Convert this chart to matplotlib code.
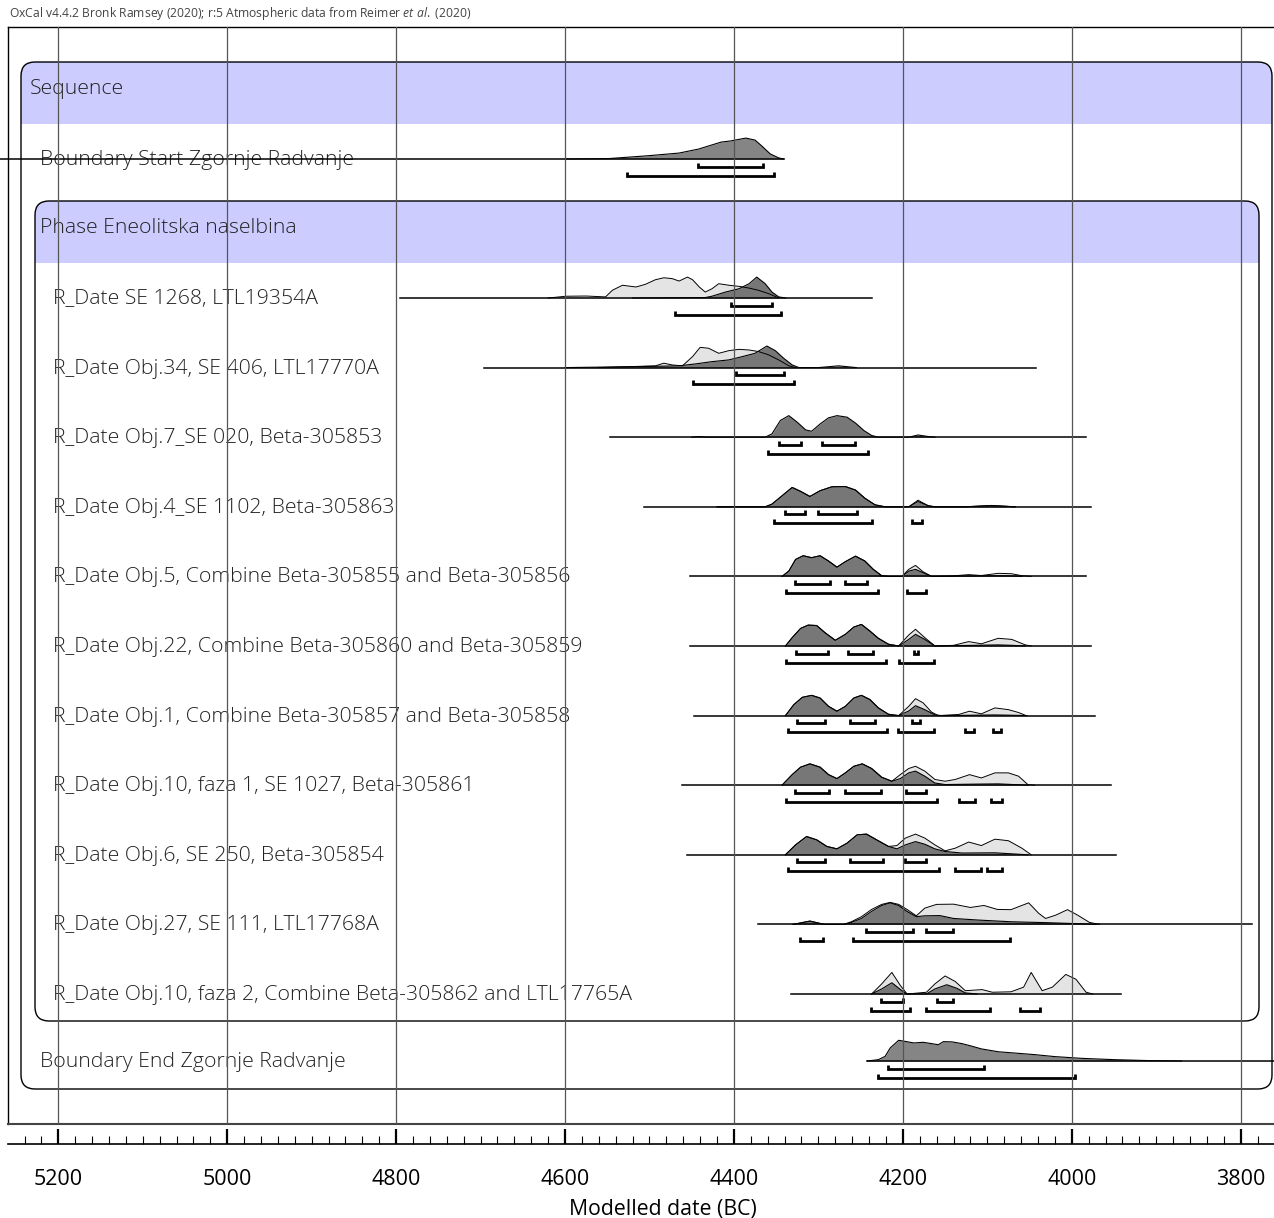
import matplotlib
matplotlib.use("Agg")
import matplotlib.pyplot as plt
from matplotlib.patches import FancyBboxPatch, Rectangle
from matplotlib.ticker import MultipleLocator

plt.rcParams["font.family"] = ["Open Sans", "DejaVu Sans"]
plt.rcParams["mathtext.fontset"] = "custom"
plt.rcParams["mathtext.rm"] = "Open Sans"
plt.rcParams["mathtext.it"] = "Open Sans:italic"

# ── data (years BC, heights in % of row height) ──────────────────────────────
BSTART_SPAN = (5269, 4341)
BSTART_YR = [4600, 4548, 4501, 4465, 4442, 4415, 4404, 4386, 4375, 4367, 4357, 4347, 4341]
BSTART_H = [0, 2, 15, 27, 45, 77, 82, 95, 86, 59, 23, 5, 0]
BSTART_68 = [(4442, 4366)]
BSTART_95 = [(4527, 4352)]

R1_SPAN = (4796, 4237)
R1_LYR = [4620, 4599, 4575, 4552, 4544, 4532, 4516, 4505, 4493, 4483, 4473, 4465,
          4455, 4449, 4441, 4434, 4426, 4418, 4406, 4394, 4382, 4371, 4359, 4347]
R1_LH = [0, 8, 9, 5, 35, 58, 50, 62, 83, 92, 88, 77, 95, 83, 50, 27, 42, 65, 58, 53, 45, 35, 20, 0]
R1_DYR = [4520, 4434, 4426, 4410, 4394, 4382, 4373, 4363, 4355, 4347, 4339]
R1_DH = [0, 2, 8, 27, 42, 65, 95, 65, 27, 5, 0]
R1_68 = [(4404, 4355)]
R1_95 = [(4470, 4344)]

R2_SPAN = (4696, 4042)
R2_LYR = [4560, 4493, 4483, 4473, 4461, 4449, 4440, 4430, 4418, 4406, 4394, 4382,
          4371, 4359, 4347, 4335, 4327]
R2_LH = [0, 8, 20, 12, 8, 50, 92, 88, 65, 77, 83, 80, 73, 58, 35, 8, 0]
R2_DYR = [4600, 4505, 4465, 4445, 4426, 4406, 4390, 4375, 4361, 4351, 4341, 4331,
          4323, 4300, 4276, 4255]
R2_DH = [0, 5, 8, 17, 27, 35, 50, 65, 98, 77, 42, 12, 0, 0, 8, 0]
R2_68 = [(4397, 4341)]
R2_95 = [(4449, 4329)]

R3_SPAN = (4547, 3983)
R3_DYR = [4450, 4441, 4432, 4363, 4355, 4345, 4335, 4325, 4315, 4308, 4298, 4288,
          4278, 4266, 4256, 4246, 4237, 4229, 4193, 4182, 4170, 4162]
R3_DH = [0, 3, 0, 0, 15, 76, 98, 68, 33, 27, 60, 88, 98, 91, 64, 30, 8, 0, 0, 10, 3, 0]
R3_68 = [(4347, 4320), (4296, 4257)]
R3_95 = [(4360, 4241)]

R4_SPAN = (4507, 3977)
R4_DYR = [4420, 4363, 4355, 4343, 4331, 4321, 4310, 4298, 4284, 4268, 4256, 4245,
          4233, 4221, 4193, 4182, 4170, 4162, 4126, 4095, 4067]
R4_DH = [0, 0, 12, 50, 88, 70, 47, 73, 91, 92, 76, 39, 9, 0, 0, 24, 5, 0, 0, 6, 0]
R4_LH = [0, 0, 12, 50, 88, 70, 47, 73, 91, 92, 76, 39, 9, 0, 0, 30, 5, 0, 0, 6, 0]
R4_68 = [(4339, 4316), (4300, 4254)]
R4_95 = [(4352, 4236), (4189, 4177)]

R5_SPAN = (4452, 3983)
R5_DYR = [4343, 4335, 4327, 4318, 4308, 4298, 4288, 4278, 4268, 4256, 4245, 4235,
          4225, 4217, 4201, 4193, 4185, 4176, 4166, 4087, 4071, 4059]
R5_DH = [0, 24, 77, 94, 85, 94, 70, 42, 67, 92, 70, 32, 3, 0, 0, 24, 32, 17, 0, 3, 2, 0]
R5_LYR = [4343, 4335, 4327, 4318, 4308, 4298, 4288, 4278, 4268, 4256, 4245, 4235,
          4225, 4217, 4201, 4193, 4185, 4176, 4166, 4142, 4122, 4107, 4087, 4071, 4059, 4048]
R5_LH = [0, 24, 77, 94, 85, 94, 70, 42, 67, 92, 70, 32, 3, 0, 0, 32, 50, 21, 0, 2, 8, 4, 14, 12, 3, 0]
R5_68 = [(4328, 4286), (4269, 4243)]
R5_95 = [(4338, 4230), (4195, 4172)]

R6_SPAN = (4452, 3977)
R6_DYR = [4339, 4331, 4321, 4312, 4302, 4292, 4280, 4268, 4258, 4249, 4239, 4229,
          4217, 4205, 4193, 4185, 4174, 4162, 4087, 4071, 4055]
R6_DH = [0, 38, 80, 95, 93, 60, 26, 53, 86, 98, 68, 35, 8, 0, 30, 53, 30, 0, 5, 3, 0]
R6_LYR = [4339, 4331, 4321, 4312, 4302, 4292, 4280, 4268, 4258, 4249, 4239, 4229,
          4217, 4205, 4193, 4185, 4174, 4162, 4140, 4122, 4107, 4087, 4071, 4055, 4048]
R6_LH = [0, 38, 80, 95, 93, 60, 26, 53, 86, 98, 68, 35, 8, 0, 50, 76, 38, 0, 3, 20, 10, 35, 30, 5, 0]
R6_68 = [(4326, 4289), (4265, 4235), (4187, 4182)]
R6_95 = [(4338, 4220), (4204, 4163)]

R7_SPAN = (4447, 3973)
R7_DYR = [4339, 4329, 4319, 4308, 4298, 4288, 4278, 4268, 4258, 4249, 4239, 4229,
          4217, 4205, 4193, 4185, 4174, 4162, 4154, 4091, 4075, 4053]
R7_DH = [0, 50, 83, 92, 80, 42, 20, 42, 80, 92, 73, 35, 6, 0, 21, 45, 27, 3, 0, 3, 2, 0]
R7_LYR = [4339, 4329, 4319, 4308, 4298, 4288, 4278, 4268, 4258, 4249, 4239, 4229,
          4217, 4205, 4193, 4185, 4176, 4166, 4158, 4134, 4121, 4107, 4091, 4075, 4063, 4054]
R7_LH = [0, 50, 83, 92, 80, 42, 20, 42, 80, 92, 73, 35, 6, 0, 42, 77, 58, 16, 0, 5, 20, 8, 35, 27, 14, 0]
R7_68 = [(4325, 4292), (4263, 4233), (4189, 4180)]
R7_95 = [(4336, 4219), (4206, 4163), (4126, 4116), (4093, 4084)]

R8_SPAN = (4461, 3953)
R8_DYR = [4343, 4331, 4321, 4310, 4298, 4288, 4278, 4268, 4258, 4248, 4237, 4225,
          4213, 4203, 4193, 4185, 4174, 4162, 4150, 4111, 4087, 4052]
R8_DH = [0, 48, 82, 97, 82, 48, 30, 56, 86, 97, 76, 36, 18, 30, 56, 64, 41, 10, 3, 5, 6, 0]
R8_LYR = [4343, 4331, 4321, 4310, 4298, 4288, 4278, 4268, 4258, 4248, 4237, 4225,
          4213, 4203, 4193, 4185, 4174, 4162, 4150, 4138, 4121, 4107, 4091, 4075, 4063, 4052, 4044]
R8_LH = [0, 48, 82, 97, 82, 48, 30, 56, 86, 97, 76, 36, 18, 48, 76, 86, 64, 26, 18, 26,
         48, 33, 56, 56, 41, 3, 0]
R8_68 = [(4328, 4287), (4268, 4226), (4196, 4173)]
R8_95 = [(4338, 4159), (4134, 4114), (4096, 4082)]

R9_SPAN = (4456, 3947)
R9_DYR = [4339, 4327, 4314, 4302, 4290, 4278, 4266, 4254, 4243, 4231, 4217, 4207,
          4197, 4185, 4174, 4162, 4150, 4130, 4091, 4052]
R9_DH = [0, 45, 83, 68, 38, 27, 53, 91, 94, 68, 38, 27, 45, 60, 48, 27, 15, 8, 9, 0]
R9_LYR = [4339, 4327, 4314, 4302, 4290, 4278, 4266, 4254, 4243, 4231, 4217, 4207,
          4197, 4185, 4174, 4162, 4150, 4138, 4122, 4107, 4091, 4075, 4059, 4048]
R9_LH = [0, 45, 83, 68, 38, 27, 53, 91, 94, 68, 38, 42, 76, 94, 76, 45, 18, 30, 58,
         42, 71, 64, 30, 0]
R9_68 = [(4325, 4292), (4263, 4224), (4198, 4172)]
R9_95 = [(4336, 4157), (4138, 4107), (4100, 4082)]

R10_SPAN = (4372, 3787)
R10_DYR = [4330, 4310, 4293, 4270, 4261, 4249, 4237, 4225, 4215, 4205, 4195, 4184,
           4174, 4156, 4140, 4112, 4072, 4031, 3991, 3971]
R10_DH = [0, 15, 0, 0, 9, 27, 59, 86, 98, 86, 59, 35, 39, 40, 27, 20, 12, 8, 3, 0]
R10_LYR = [4330, 4310, 4293, 4270, 4261, 4249, 4237, 4225, 4215, 4205, 4195, 4184,
           4174, 4160, 4140, 4120, 4104, 4088, 4072, 4051, 4039, 4031, 4019, 4005, 3993, 3979, 3967]
R10_LH = [0, 15, 0, 0, 12, 35, 68, 91, 100, 91, 68, 39, 74, 91, 92, 77, 86, 68, 67,
          98, 50, 27, 42, 67, 42, 9, 0]
R10_68 = [(4244, 4188), (4172, 4141)]
R10_95 = [(4322, 4294), (4259, 4073)]

R11_SPAN = (4332, 3942)
R11_DYR = [4237, 4225, 4213, 4201, 4195, 4172, 4162, 4148, 4136, 4126, 4112]
R11_DH = [0, 23, 51, 15, 0, 0, 23, 42, 26, 5, 0]
R11_LYR = [4237, 4225, 4213, 4203, 4195, 4172, 4162, 4150, 4138, 4126, 4106, 4094,
           4072, 4057, 4048, 4035, 4023, 4007, 3995, 3983, 3975]
R11_LH = [0, 46, 98, 39, 0, 8, 46, 82, 57, 15, 20, 8, 10, 31, 98, 15, 31, 89, 67, 8, 0]
R11_68 = [(4226, 4200), (4160, 4141)]
R11_95 = [(4238, 4191), (4172, 4097), (4061, 4038)]

BEND_SPAN = (4242, 3760)
BEND_YR = [4242, 4229, 4221, 4215, 4205, 4197, 4187, 4176, 4166, 4158, 4152, 4142,
           4130, 4118, 4107, 4087, 4067, 4044, 4020, 3988, 3949, 3910, 3870]
BEND_H = [0, 6, 21, 59, 94, 89, 82, 85, 79, 74, 88, 87, 79, 67, 55, 42, 36, 29, 20, 12, 6, 2, 0]
BEND_68 = [(4218, 4104)]
BEND_95 = [(4229, 3996)]

LABELS = [
    "Boundary Start Zgornje Radvanje",
    "R_Date SE 1268, LTL19354A",
    "R_Date Obj.34, SE 406, LTL17770A",
    "R_Date Obj.7_SE 020, Beta-305853",
    "R_Date Obj.4_SE 1102, Beta-305863",
    "R_Date Obj.5, Combine Beta-305855 and Beta-305856",
    "R_Date Obj.22, Combine Beta-305860 and Beta-305859",
    "R_Date Obj.1, Combine Beta-305857 and Beta-305858",
    "R_Date Obj.10, faza 1, SE 1027, Beta-305861",
    "R_Date Obj.6, SE 250, Beta-305854",
    "R_Date Obj.27, SE 111, LTL17768A",
    "R_Date Obj.10, faza 2, Combine Beta-305862 and LTL17765A",
    "Boundary End Zgornje Radvanje",
]
GRID_YEARS = [5200, 5000, 4800, 4600, 4400, 4200, 4000, 3800]

# ── layout (pixels) ───────────────────────────────────────────────────────────
W, H = 1274, 1218
ROW_Y = [159] + [298 + i * 69.6 for i in range(11)] + [1061]
LABEL_X = [40] + [53] * 11 + [40]
HSCALE = 0.22          # px per % of peak
XL, XR = 5259.6, 3760.5

rows = [
    (BSTART_SPAN, None, (BSTART_YR, BSTART_H), BSTART_68, BSTART_95, True),
    (R1_SPAN, (R1_LYR, R1_LH), (R1_DYR, R1_DH), R1_68, R1_95, False),
    (R2_SPAN, (R2_LYR, R2_LH), (R2_DYR, R2_DH), R2_68, R2_95, False),
    (R3_SPAN, None, (R3_DYR, R3_DH), R3_68, R3_95, False),
    (R4_SPAN, (R4_DYR, R4_LH), (R4_DYR, R4_DH), R4_68, R4_95, False),
    (R5_SPAN, (R5_LYR, R5_LH), (R5_DYR, R5_DH), R5_68, R5_95, False),
    (R6_SPAN, (R6_LYR, R6_LH), (R6_DYR, R6_DH), R6_68, R6_95, False),
    (R7_SPAN, (R7_LYR, R7_LH), (R7_DYR, R7_DH), R7_68, R7_95, False),
    (R8_SPAN, (R8_LYR, R8_LH), (R8_DYR, R8_DH), R8_68, R8_95, False),
    (R9_SPAN, (R9_LYR, R9_LH), (R9_DYR, R9_DH), R9_68, R9_95, False),
    (R10_SPAN, (R10_LYR, R10_LH), (R10_DYR, R10_DH), R10_68, R10_95, False),
    (R11_SPAN, (R11_LYR, R11_LH), (R11_DYR, R11_DH), R11_68, R11_95, False),
    (BEND_SPAN, None, (BEND_YR, BEND_H), BEND_68, BEND_95, True),
]

fig = plt.figure(figsize=(W / 100, H / 100), dpi=100)

# background layer: boxes, bands, labels (pixel coords)
lay = fig.add_axes([0, 0, 1, 1], zorder=0)
lay.set_xlim(0, W)
lay.set_ylim(H, 0)
lay.axis("off")


def group_box(x0, y0, x1, y1, band):
    kw = dict(boxstyle="round,pad=0,rounding_size=14")
    blue = FancyBboxPatch((x0, y0), x1 - x0, y1 - y0, fc="#ccccff", ec="none", **kw)
    lay.add_patch(blue)
    blue.set_clip_path(Rectangle((x0, y0), x1 - x0, band, transform=lay.transData))
    lay.add_patch(FancyBboxPatch((x0, y0), x1 - x0, y1 - y0, fc="none",
                                 ec="black", lw=1.0, **kw))


group_box(21, 62, 1272, 1089, 62)
group_box(35, 201, 1259, 1021, 62)

txt = dict(fontsize=15.3, fontweight="light", color="#222222", va="center")
lay.text(30, 89, "Sequence", **txt)
lay.text(40, 228, "Phase Eneolitska naselbina", **txt)
for lx, ly, lab in zip(LABEL_X, ROW_Y, LABELS):
    lay.text(lx, ly + 1, lab, **txt)

fig.text(9 / W, 1 - 14 / H,
         r"OxCal v4.4.2 Bronk Ramsey (2020); r:5 Atmospheric data from Reimer $\mathit{et\ al.}$ (2020)",
         fontsize=8.7, color="#444444", va="center")

# main plot area: x in years BC, y in pixels
ax = fig.add_axes([8 / W, (H - 1124) / H, (W - 8) / W, (1124 - 27) / H], zorder=1)
ax.patch.set_alpha(0)
ax.set_xlim(XL, XR)
ax.set_ylim(1124, 27)
ax.set_xticks([])
ax.set_yticks([])
ax.spines["right"].set_visible(False)
for s in ("left", "top"):
    ax.spines[s].set_linewidth(1.0)
ax.spines["bottom"].set_linewidth(1.5)
ax.spines["bottom"].set_color("#444444")

for g in GRID_YEARS:
    ax.axvline(g, color="#555555", lw=0.9, zorder=10)

for (span, light, dark, r68, r95, is_bound), y0 in zip(rows, ROW_Y):
    ax.plot(span, [y0, y0], color="black", lw=1.1, zorder=5, clip_on=False)
    if light is not None:
        ly = [y0 - h * HSCALE for h in light[1]]
        ax.fill_between(light[0], y0, ly, color="#e4e4e4", lw=0, zorder=2)
    dy = [y0 - h * HSCALE for h in dark[1]]
    ax.fill_between(dark[0], y0, dy, color="#858585" if is_bound else "#777777",
                    lw=0, zorder=3)
    ax.plot(dark[0], dy, color="black", lw=0.8, zorder=4)
    if light is not None:
        ax.plot(light[0], ly, color="black", lw=0.7, zorder=4)
    for off, ranges in ((7.5, r68), (16.5, r95)):
        yb = y0 + off
        for a, b in ranges:
            ax.plot([a, a, b, b], [yb - 4, yb, yb, yb - 4], color="black", lw=2.0,
                    solid_joinstyle="miter", solid_capstyle="butt", zorder=6)

# date scale below the frame
sc = fig.add_axes([8 / W, (H - 1144) / H, (W - 8) / W, 15 / H], zorder=1)
sc.patch.set_alpha(0)
sc.set_xlim(XL, XR)
sc.set_yticks([])
for s in ("left", "right", "top"):
    sc.spines[s].set_visible(False)
sc.spines["bottom"].set_linewidth(1.2)
sc.xaxis.set_major_locator(MultipleLocator(200))
sc.xaxis.set_minor_locator(MultipleLocator(20))
sc.tick_params(axis="x", which="major", direction="in", length=11, width=1.6,
               labelsize=15.5, pad=18)
sc.tick_params(axis="x", which="minor", direction="in", length=5.5, width=0.8)

fig.text(663 / W, 1 - 1209 / H, "Modelled date (BC)", fontsize=15.3, ha="center", va="center")

fig.savefig("out.png", dpi=100)
